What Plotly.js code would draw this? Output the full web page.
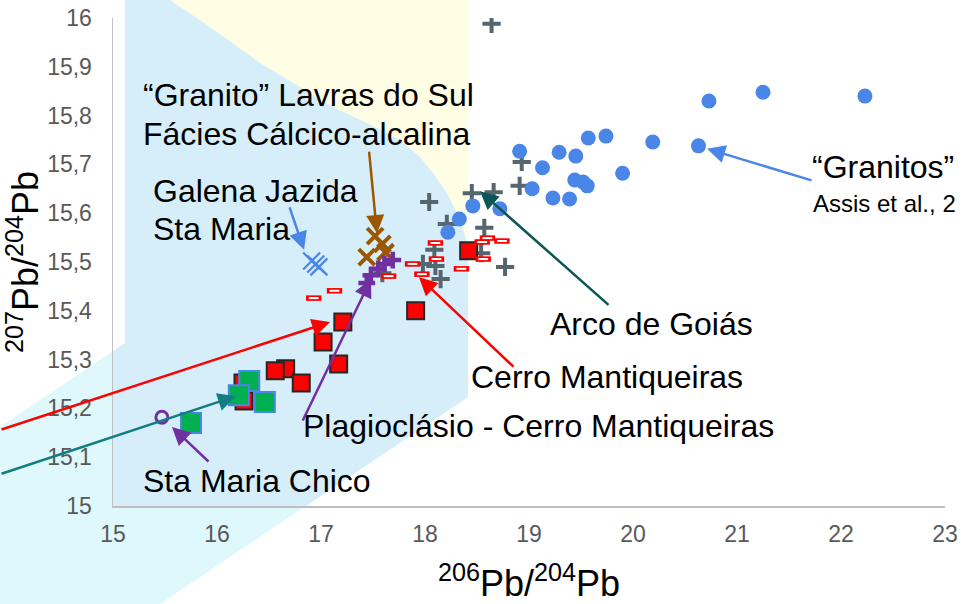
<!DOCTYPE html>
<html><head><meta charset="utf-8">
<script src="https://cdn.plot.ly/plotly-3.0.1.min.js"></script>
<style>html,body{margin:0;padding:0;background:#fff}#chart{width:963px;height:604px}</style>
</head><body><div id="chart"></div>
<script>
// ---------- data ----------
const granitosX = [20.73,19.57,19.74,20.19,20.63,18.91,19.29,19.45,19.13,19.90,19.44,19.52,19.56,19.03,19.23,19.39,18.46,18.72,18.33,18.22,21.25,22.23];
const granitosY = [15.830,15.754,15.758,15.746,15.738,15.727,15.725,15.717,15.693,15.682,15.668,15.664,15.656,15.650,15.631,15.629,15.615,15.609,15.588,15.561,15.848,15.840];

const arcoX = [18.64,18.93,18.91,18.45,18.66,18.04,18.21,18.57,18.09,18.54,18.77,17.98,18.10,18.15,17.59];
const arcoY = [15.988,15.705,15.656,15.641,15.643,15.623,15.578,15.570,15.525,15.518,15.490,15.496,15.492,15.465,15.477];

const cerroX = [17.21,17.02,17.17,16.66,16.56,16.81,16.25,16.26,17.91,18.42];
const cerroY = [15.377,15.336,15.291,15.281,15.277,15.252,15.252,15.215,15.400,15.523];

const cerroSmallX = [18.10,18.60,18.55,18.74,18.11,18.56,17.88,18.35,17.97,17.65,16.93,17.13];
const cerroSmallY = [15.539,15.549,15.541,15.543,15.506,15.506,15.496,15.486,15.475,15.471,15.426,15.441];

const staMariaChicoX = [16.31,16.21,16.46,15.75];
const staMariaChicoY = [15.256,15.227,15.213,15.170];

const openCircleX = [15.47];
const openCircleY = [15.182];

const lavrasX = [17.52,17.59,17.62,17.44];
const lavrasY = [15.553,15.537,15.520,15.510];

const plagioX = [17.69,17.61,17.55,17.48,17.44];
const plagioY = [15.504,15.496,15.486,15.473,15.457];

const galenaX = [16.91,16.95,16.98];
const galenaY = [15.502,15.496,15.490];

const xTickVals = [15,16,17,18,19,20,21,22,23];
const xTickLabels = ['15','16','17','18','19','20','21','22','23'];
const yTickVals = [15,15.1,15.2,15.3,15.4,15.5,15.6,15.7,15.8,15.9,16];
const yTickLabels = ['15','15,1','15,2','15,3','15,4','15,5','15,6','15,7','15,8','15,9','16'];

// ---------- layout helpers (pixel -> paper) ----------
const W = 963, H = 604, ML = 113, MR = 18, MT = 18, MB = 98;
const PW = W - ML - MR, PH = H - MT - MB;
const fx = p => (p - ML) / PW;
const fy = p => (H - MB - p) / PH;
const poly = pts => pts.map((p, i) => (i ? 'L' : 'M') + fx(p[0]).toFixed(4) + ',' + fy(p[1]).toFixed(4)).join(' ') + ' Z';

const FONT = 'Liberation Sans, Arial, sans-serif';

const traces = [
  {x: arcoX, y: arcoY, type: 'scatter', mode: 'markers', name: 'Arco de Goiás',
   marker: {symbol: 'cross-thin', size: 13, color: '#56666f', line: {color: '#56666f', width: 4}}},
  {x: galenaX, y: galenaY, type: 'scatter', mode: 'markers', name: 'Galena Jazida Sta Maria',
   marker: {symbol: 'x-thin', size: 17, color: '#4a86e8', line: {color: '#4a86e8', width: 2.2}}},
  {x: lavrasX, y: lavrasY, type: 'scatter', mode: 'markers', name: 'Lavras do Sul',
   marker: {symbol: 'x-thin', size: 16, color: '#9c5700', line: {color: '#9c5700', width: 4}}},
  {x: plagioX, y: plagioY, type: 'scatter', mode: 'markers', name: 'Plagioclásio',
   marker: {symbol: 'cross-thin', size: 12, color: '#7030a0', line: {color: '#7030a0', width: 4.5}}},
  {x: cerroX, y: cerroY, type: 'scatter', mode: 'markers', name: 'Cerro Mantiqueiras',
   marker: {symbol: 'square', size: 17, color: '#ff0000', line: {color: '#262626', width: 2}}},
  {x: cerroSmallX, y: cerroSmallY, type: 'scatter', mode: 'markers', name: 'Cerro Mantiqueiras (outline)',
   marker: {symbol: 'line-ew', size: 11, color: '#ff0000', line: {color: '#ff0000', width: 5.5}}},
  {x: cerroSmallX, y: cerroSmallY, type: 'scatter', mode: 'markers', name: 'Cerro Mantiqueiras (fill)',
   marker: {symbol: 'line-ew', size: 7, color: '#ffffff', line: {color: '#ffffff', width: 2}}},
  {x: staMariaChicoX, y: staMariaChicoY, type: 'scatter', mode: 'markers', name: 'Sta Maria Chico',
   marker: {symbol: 'square', size: 20, color: '#00b050', line: {color: '#4a86e8', width: 2}}},
  {x: openCircleX, y: openCircleY, type: 'scatter', mode: 'markers', name: 'Sta Maria Chico (círculo)',
   marker: {symbol: 'circle-open', size: 12, color: '#7030a0', line: {color: '#7030a0', width: 3}}},
  {x: granitosX, y: granitosY, type: 'scatter', mode: 'markers', name: 'Granitos',
   marker: {symbol: 'circle', size: 15, color: '#4a86e8', line: {width: 0}}}
];

const shapes = [
  {type: 'path', xref: 'paper', yref: 'paper', layer: 'below', line: {width: 0}, fillcolor: '#def8fc',
   path: poly([[0,427],[125,343],[125,0],[468,0],[468,397],[160,604],[0,604]])},
  {type: 'path', xref: 'paper', yref: 'paper', layer: 'below', line: {width: 0}, fillcolor: '#d6eefa',
   path: poly([[125,0],[468,0],[468,397],[306,506],[113,506],[113,351],[125,343]])},
  {type: 'path', xref: 'paper', yref: 'paper', layer: 'below', line: {width: 0}, fillcolor: '#fffde4',
   path: poly([[170,0],[210,27],[260,63],[300,87],[333,107],[367,123],[400,140],[420,157],[433,173],[447,193],[457,213],[464,233],[468,248],[468,0]])}
];

function label(text, left, center, size) {
  return {text: text, xref: 'paper', yref: 'paper', x: fx(left - 2), y: fy(center),
    xanchor: 'left', yanchor: 'middle', showarrow: false,
    font: {family: FONT, size: size || 32, color: '#000000'}};
}
function arrow(x, y, ax, ay, color) {
  return {text: '', x: x, y: y, xref: 'x', yref: 'y', ax: ax, ay: ay, showarrow: true,
    arrowhead: 2, arrowsize: 1.45, arrowwidth: 2.5, arrowcolor: color, standoff: 0, startstandoff: 0};
}

const annotations = [
  label('“Granito” Lavras do Sul', 143, 95),
  label('Fácies Cálcico-alcalina', 143, 134),
  label('Galena Jazida', 153, 190.5),
  label('Sta Maria', 153, 229),
  label('Arco de Goiás', 550, 324),
  label('Cerro Mantiqueiras', 471, 377),
  label('Plagioclásio - Cerro Mantiqueiras', 303, 425.5),
  label('Sta Maria Chico', 143, 480.5),
  label('“Granitos”', 812, 167),
  label('Assis et al., 2', 813, 203.5, 24),
  arrow(17.087, 15.377, -330, 108, '#ff0000'),
  arrow(16.183, 15.225, -236, 78, '#127d82'),
  arrow(15.567, 15.162, 38, 36, '#7030a0'),
  arrow(17.481, 15.465, -69, 143, '#7030a0'),
  arrow(17.538, 15.559, -8, -83, '#9c5700'),
  arrow(16.837, 15.525, -15, -44, '#4a86e8'),
  arrow(17.942, 15.469, 96, 91, '#ff0000'),
  arrow(18.529, 15.645, 130, 115, '#0b5656'),
  arrow(20.712, 15.732, 106, 32, '#4a86e8')
];

const layout = {
  width: W, height: H,
  margin: {l: ML, r: MR, t: MT, b: MB, pad: 0},
  paper_bgcolor: '#ffffff', plot_bgcolor: 'rgba(0,0,0,0)',
  showlegend: false,
  separators: ',.',
  font: {family: FONT},
  xaxis: {range: [15, 23], tickvals: xTickVals, ticktext: xTickLabels, showgrid: false, zeroline: false,
    showline: true, linecolor: '#bfbfbf', linewidth: 1.5, ticks: '', ticklabelstandoff: 7,
    tickfont: {family: FONT, size: 23, color: '#595959'},
    title: {text: '<sup>206</sup>Pb/<sup>204</sup>Pb', font: {family: FONT, size: 36, color: '#000000'}, standoff: 38}},
  yaxis: {range: [15, 16], tickvals: yTickVals, ticktext: yTickLabels, showgrid: false, zeroline: false,
    showline: true, linecolor: '#bfbfbf', linewidth: 1.5, ticks: '', ticklabelstandoff: 15,
    tickfont: {family: FONT, size: 23, color: '#595959'},
    title: {text: '<sup>207</sup>Pb/<sup>204</sup>Pb', font: {family: FONT, size: 36, color: '#000000'}, standoff: 0}},
  shapes: shapes,
  annotations: annotations
};

Plotly.newPlot('chart', traces, layout, {staticPlot: true, displayModeBar: false});
</script></body></html>
